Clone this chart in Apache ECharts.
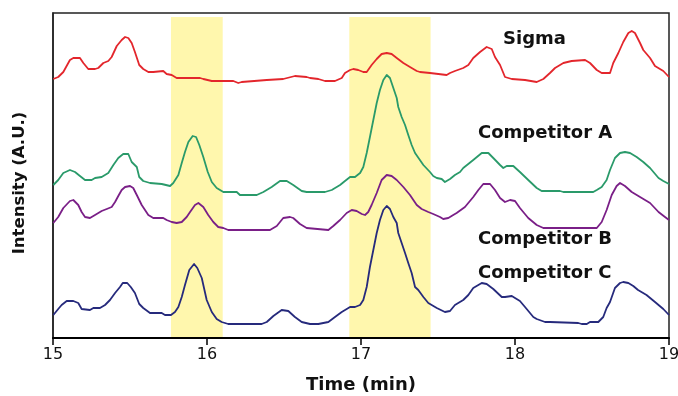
<!DOCTYPE html>
<html><head><meta charset="utf-8">
<script src="https://cdn.jsdelivr.net/npm/echarts@6/dist/echarts.min.js"></script>
<style>html,body{margin:0;padding:0;background:#fff}#c{width:678px;height:396px}</style>
</head><body><div id="c"></div>
<script>
// time range / ticks (min)
const xMin = 15, xMax = 19, xStep = 1;
// highlighted time windows (min)
const bands = [[15.766, 16.102], [16.924, 17.452]];
const seriesNames = ['Sigma', 'Competitor A', 'Competitor B', 'Competitor C'];

// [time (min), intensity (A.U., arbitrary)]
const sigma = [[15.002,259],[15.034,261],[15.067,266],[15.110,278],[15.132,280],[15.175,280],[15.197,275],[15.229,269],[15.273,269],[15.294,270],[15.327,275],[15.359,277],[15.381,281],[15.414,292],[15.446,298],[15.468,301],[15.489,300],[15.511,295],[15.532,286],[15.560,273],[15.586,269],[15.619,266],[15.651,266],[15.662,267],[15.716,267],[15.738,264],[15.771,263],[15.803,260],[15.955,260],[15.976,259],[16.031,257],[16.171,257],[16.203,255],[16.225,256],[16.388,258],[16.495,259],[16.506,260],[16.571,262],[16.647,261],[16.669,260],[16.723,259],[16.766,257],[16.831,257],[16.875,260],[16.896,265],[16.929,268],[16.950,269],[16.982,268],[17.015,266],[17.037,266],[17.069,273],[17.102,279],[17.134,284],[17.167,285],[17.199,284],[17.232,280],[17.275,275],[17.318,271],[17.362,267],[17.383,266],[17.448,265],[17.459,264],[17.556,263],[17.578,265],[17.610,267],[17.664,270],[17.697,273],[17.729,280],[17.773,286],[17.816,291],[17.849,289],[17.870,281],[17.903,273],[17.935,261],[17.979,259],[18.065,258],[18.076,256],[18.141,256],[18.184,259],[18.227,265],[18.260,270],[18.314,275],[18.368,277],[18.455,278],[18.487,275],[18.531,268],[18.563,265],[18.617,265],[18.638,275],[18.671,285],[18.703,296],[18.736,305],[18.758,307],[18.779,305],[18.812,295],[18.833,288],[18.877,280],[18.909,272],[18.963,267],[19.0,261]];

const compA = [[15.002,153],[15.034,158],[15.067,165],[15.110,168],[15.143,166],[15.175,162],[15.208,158],[15.251,158],[15.273,160],[15.316,161],[15.359,165],[15.392,173],[15.424,180],[15.456,184],[15.489,184],[15.511,176],[15.544,171],[15.560,161],[15.586,157],[15.630,155],[15.706,154],[15.760,152],[15.781,155],[15.814,163],[15.836,175],[15.857,186],[15.879,196],[15.907,202],[15.929,201],[15.950,193],[15.976,181],[16.005,166],[16.031,156],[16.063,150],[16.106,146],[16.193,146],[16.214,143],[16.323,143],[16.366,146],[16.420,151],[16.474,157],[16.518,157],[16.560,153],[16.615,147],[16.647,146],[16.766,146],[16.810,148],[16.864,153],[16.896,157],[16.929,161],[16.961,161],[16.994,165],[17.015,171],[17.037,185],[17.058,201],[17.080,218],[17.102,235],[17.123,248],[17.145,258],[17.167,263],[17.188,260],[17.210,250],[17.232,240],[17.242,231],[17.264,221],[17.286,213],[17.307,203],[17.329,193],[17.351,185],[17.362,183],[17.405,173],[17.448,166],[17.469,162],[17.492,160],[17.524,159],[17.545,156],[17.578,159],[17.610,163],[17.643,166],[17.664,170],[17.729,178],[17.784,185],[17.827,185],[17.859,180],[17.903,173],[17.924,170],[17.946,172],[17.989,172],[18.032,166],[18.086,158],[18.141,150],[18.173,147],[18.292,147],[18.314,146],[18.508,146],[18.531,148],[18.563,151],[18.595,158],[18.617,168],[18.649,180],[18.682,185],[18.714,186],[18.747,185],[18.790,181],[18.833,176],[18.877,170],[18.932,160],[18.963,157],[19.0,154]];

const compB = [[15.002,115],[15.034,121],[15.067,130],[15.110,137],[15.132,138],[15.164,133],[15.186,126],[15.208,121],[15.240,120],[15.273,123],[15.316,127],[15.349,129],[15.381,131],[15.403,136],[15.424,142],[15.446,148],[15.468,151],[15.500,152],[15.521,150],[15.544,143],[15.576,133],[15.619,123],[15.651,120],[15.716,120],[15.738,118],[15.771,116],[15.803,115],[15.836,116],[15.868,121],[15.890,126],[15.922,133],[15.944,135],[15.976,131],[16.008,123],[16.041,116],[16.073,111],[16.106,110],[16.138,108],[16.409,108],[16.453,112],[16.495,120],[16.539,121],[16.560,120],[16.604,114],[16.647,110],[16.788,108],[16.820,112],[16.864,118],[16.907,125],[16.940,128],[16.972,127],[17.005,124],[17.026,123],[17.047,126],[17.069,133],[17.102,145],[17.134,158],[17.167,163],[17.199,162],[17.232,158],[17.275,151],[17.318,143],[17.362,133],[17.394,129],[17.437,126],[17.469,124],[17.513,121],[17.534,119],[17.567,120],[17.599,123],[17.621,125],[17.675,131],[17.729,141],[17.762,148],[17.794,154],[17.838,154],[17.870,148],[17.903,140],[17.935,136],[17.968,138],[18.0,137],[18.032,130],[18.086,120],[18.141,113],[18.184,110],[18.531,110],[18.563,116],[18.595,128],[18.628,143],[18.660,152],[18.682,155],[18.714,152],[18.758,146],[18.812,141],[18.877,135],[18.932,126],[18.974,121],[19.0,118]];

const compC = [[15.002,23],[15.034,29],[15.056,33],[15.089,37],[15.132,37],[15.164,35],[15.186,29],[15.240,28],[15.262,30],[15.305,30],[15.338,33],[15.370,38],[15.403,45],[15.435,51],[15.453,55],[15.482,55],[15.505,51],[15.532,45],[15.560,34],[15.586,30],[15.630,25],[15.706,25],[15.727,23],[15.766,23],[15.792,26],[15.814,31],[15.836,41],[15.857,53],[15.885,68],[15.916,74],[15.937,70],[15.966,60],[15.998,38],[16.031,26],[16.063,19],[16.095,16],[16.138,14],[16.355,14],[16.388,16],[16.431,22],[16.485,28],[16.528,27],[16.571,21],[16.615,16],[16.669,14],[16.723,14],[16.788,16],[16.831,21],[16.875,26],[16.929,31],[16.961,31],[16.994,33],[17.015,38],[17.037,51],[17.058,71],[17.080,88],[17.102,105],[17.123,118],[17.145,128],[17.167,132],[17.188,129],[17.210,121],[17.232,115],[17.242,105],[17.264,95],[17.286,85],[17.307,75],[17.329,65],[17.351,51],[17.372,48],[17.405,41],[17.437,35],[17.492,30],[17.545,26],[17.578,27],[17.610,33],[17.664,38],[17.697,43],[17.729,50],[17.784,55],[17.816,54],[17.859,49],[17.914,41],[17.935,41],[17.979,42],[18.032,37],[18.065,31],[18.119,21],[18.141,19],[18.195,16],[18.227,16],[18.411,15],[18.433,14],[18.466,14],[18.487,16],[18.541,16],[18.573,21],[18.595,30],[18.617,36],[18.649,50],[18.682,55],[18.703,56],[18.736,55],[18.768,52],[18.799,48],[18.854,43],[18.909,36],[18.963,29],[19.0,23]];

const seriesData = [sigma, compA, compB, compC];
const colors = ['#e3262c', '#2a9a6a', '#7a1f87', '#262a7c'];

const chart = echarts.init(document.getElementById('c'), null, {renderer: 'canvas'});
const TF = 'DejaVu Sans';
const lineSeries = seriesData.map((d, i) => ({
  name: seriesNames[i], type: 'line', data: d, showSymbol: false, symbol: 'none',
  smooth: false, lineStyle: {color: colors[i], width: 1.8, join: 'round'}, z: 2, animation: false
}));
lineSeries.push({
  type: 'line', data: [], z: 10, silent: true, animation: false,
  markArea: {
    silent: true,
    itemStyle: {color: 'rgba(255,236,60,0.42)'},
    data: bands.map(b => [{xAxis: b[0], yAxis: 1}, {xAxis: b[1], yAxis: 321}])
  }
});

chart.setOption({
  animation: false,
  backgroundColor: '#fff',
  grid: {left: 53, right: 9, top: 13, bottom: 58, show: true, borderColor: '#222', borderWidth: 1.5, backgroundColor: 'transparent', outerBoundsMode: 'none', containLabel: false},
  xAxis: {
    type: 'value', min: xMin, max: xMax, interval: xStep,
    axisLine: {show: true, lineStyle: {color: '#000', width: 2}},
    axisTick: {show: true, inside: false, length: 7, lineStyle: {color: '#000', width: 1.5}},
    axisLabel: {color: '#111', fontFamily: TF, fontSize: 16, margin: 9},
    splitLine: {show: false}
  },
  yAxis: {
    type: 'value', min: 0, max: 325,
    axisLine: {show: true, lineStyle: {color: '#222', width: 1.5}},
    axisTick: {show: false}, axisLabel: {show: false}, splitLine: {show: false}
  },
  series: lineSeries,
  graphic: [
    {type: 'text', left: 503, top: 30, z: 20, style: {text: seriesNames[0], fill: '#111', font: 'bold 18px "DejaVu Sans"'}},
    {type: 'text', left: 478, top: 124, z: 20, style: {text: seriesNames[1], fill: '#111', font: 'bold 18px "DejaVu Sans"'}},
    {type: 'text', left: 478, top: 230, z: 20, style: {text: seriesNames[2], fill: '#111', font: 'bold 18px "DejaVu Sans"'}},
    {type: 'text', left: 478, top: 264, z: 20, style: {text: seriesNames[3], fill: '#111', font: 'bold 18px "DejaVu Sans"'}},
    {type: 'text', x: 361, y: 385, z: 20, style: {text: 'Time (min)', fill: '#111', font: 'bold 18px "DejaVu Sans"', align: 'center', verticalAlign: 'middle'}},
    {type: 'text', x: 20, y: 183, rotation: Math.PI / 2, z: 20, style: {text: 'Intensity (A.U.)', fill: '#111', font: 'bold 16.5px "DejaVu Sans"', align: 'center', verticalAlign: 'middle'}}
  ]
});
</script>
</body></html>
